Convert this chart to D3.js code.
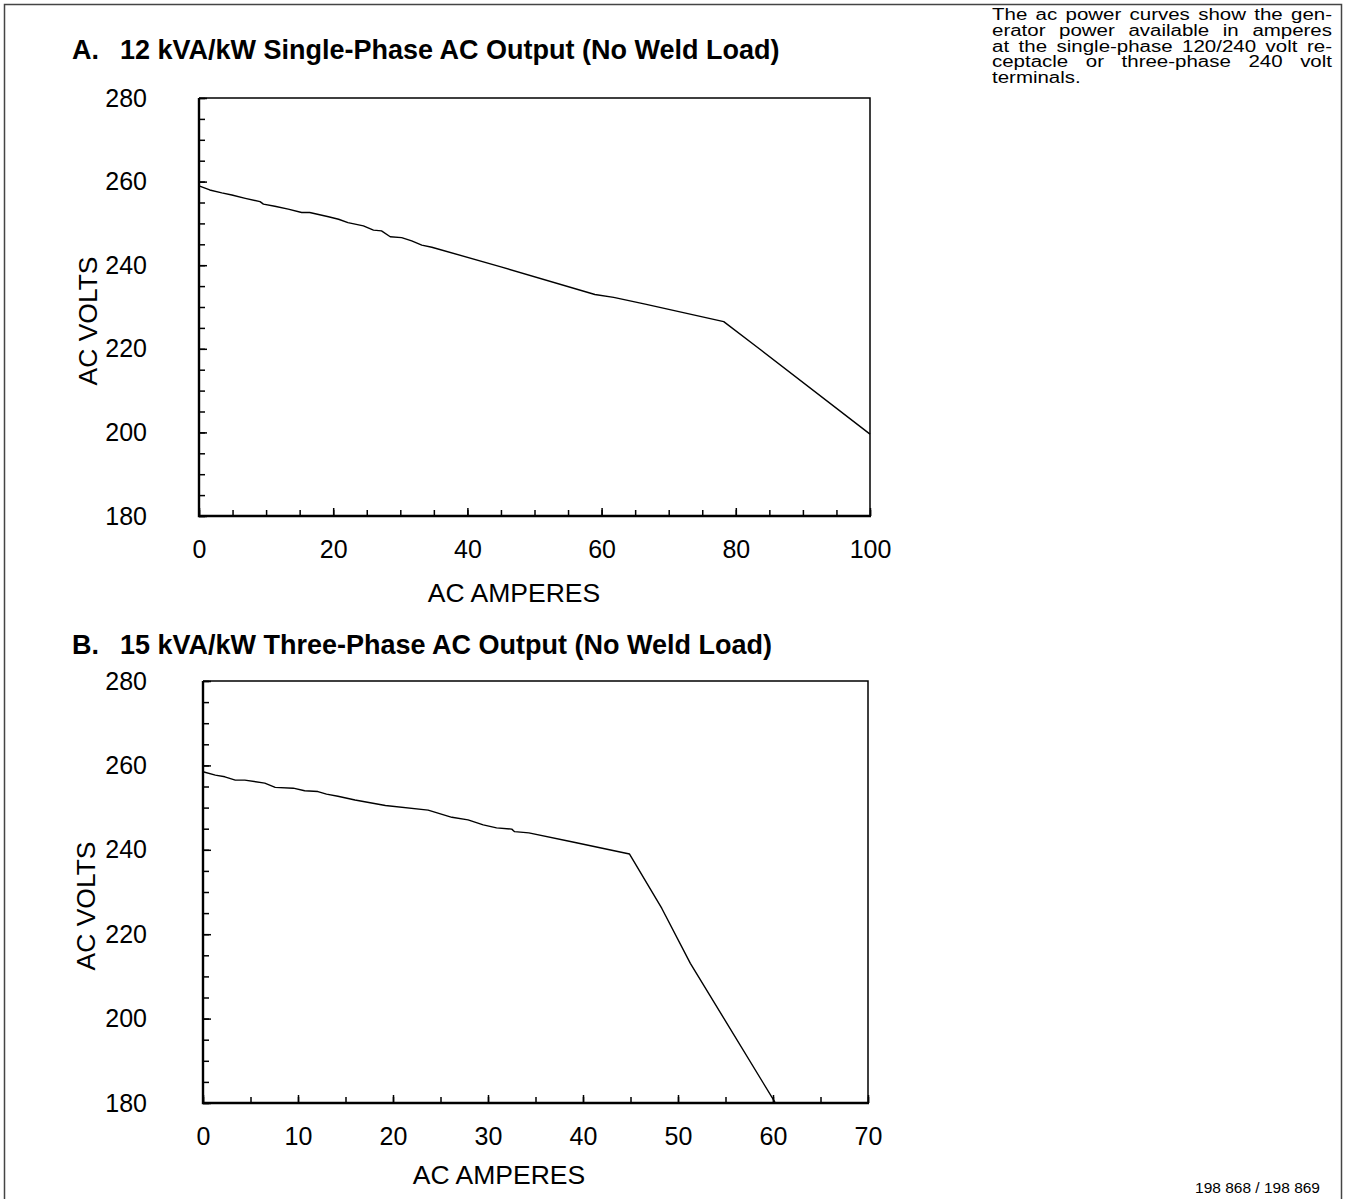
<!DOCTYPE html>
<html>
<head>
<meta charset="utf-8">
<script src="https://cdn.jsdelivr.net/npm/d3@7"></script>
<style>
  body { margin: 0; background: #fff; }
  svg { display: block; font-family: "Liberation Sans", Arial, Helvetica, sans-serif; }
</style>
</head>
<body>
<svg id="chart" width="1348" height="1199"></svg>
<script>
// tick values
var voltTicks = [180, 200, 220, 240, 260, 280];
var ampTicksA = [0, 20, 40, 60, 80, 100];
var ampTicksB = [0, 10, 20, 30, 40, 50, 60, 70];

// A: 12 kVA/kW single-phase
var ampsA = [0, 1.6, 3.4, 4.9, 6.9, 9.1, 9.6, 11.3, 13.3, 15.3, 16.5, 19.3, 20.8, 22.2, 24.5, 26.0, 27.2, 28.5, 30.2, 31.7, 33.2, 34.7, 45.0, 59.0, 61.8, 66.5, 78.2, 83.5, 100];
var voltsA = [259.0, 258.0, 257.3, 256.8, 256.0, 255.2, 254.6, 254.1, 253.4, 252.6, 252.6, 251.6, 251.0, 250.2, 249.4, 248.4, 248.2, 246.8, 246.6, 245.8, 244.8, 244.3, 239.6, 233.0, 232.3, 230.7, 226.5, 220.0, 199.6];

// B: 15 kVA/kW three-phase
var ampsB = [0, 1.3, 2.3, 3.4, 4.4, 6.5, 7.6, 9.5, 10.7, 12.1, 13.0, 14.2, 16.0, 19.2, 23.7, 26.2, 27.9, 29.5, 30.9, 32.5, 32.8, 34.3, 38.8, 44.9, 48.3, 51.3, 60.2];
var voltsB = [258.5, 257.7, 257.3, 256.5, 256.5, 255.8, 254.8, 254.6, 254.0, 253.8, 253.2, 252.7, 251.8, 250.5, 249.4, 247.7, 247.1, 245.9, 245.2, 244.9, 244.3, 244.0, 241.9, 239.0, 226.1, 213.1, 180.2];

var titleA = "12 kVA/kW Single-Phase AC Output (No Weld Load)";
var titleB = "15 kVA/kW Three-Phase AC Output (No Weld Load)";
var noteLines = [
    "The ac power curves show the gen-",
    "erator power available in amperes",
    "at the single-phase 120/240 volt re-",
    "ceptacle or three-phase 240 volt",
    "terminals."
];
var figNumber = "198 868 / 198 869";

var svg = d3.select("#chart");

// page border (bottom is cut off in the source)
svg.append("path")
    .attr("d", "M4.5,1199 V4.5 H1341.5 V1199")
    .attr("fill", "none")
    .attr("stroke", "#444")
    .attr("stroke-width", 1.5);

function draw_panel(p) {
    var x = d3.scaleLinear().domain([0, p.xMax]).range([p.left, p.right]);
    var y = d3.scaleLinear().domain([180, 280]).range([p.bottom, p.top]);

    // heading
    svg.append("text")
        .attr("x", 72).attr("y", p.titleY)
        .attr("font-size", 27).attr("font-weight", "bold")
        .text(p.letter);
    svg.append("text")
        .attr("x", 120).attr("y", p.titleY)
        .attr("font-size", 27).attr("font-weight", "bold")
        .text(p.title);

    // minor ticks every 5
    var minorY = d3.range(180, 281, 5);
    var minorX = d3.range(0, p.xMax + 1, 5);
    svg.append("g")
        .attr("transform", "translate(" + p.left + ",0)")
        .call(d3.axisLeft(y).tickValues(minorY).tickSize(-6).tickFormat(""))
        .call(function (g) { g.select(".domain").remove(); })
        .selectAll("line").attr("stroke-width", 1.5);
    svg.append("g")
        .attr("transform", "translate(0," + p.bottom + ")")
        .call(d3.axisBottom(x).tickValues(minorX).tickSize(-6).tickFormat(""))
        .call(function (g) { g.select(".domain").remove(); })
        .selectAll("line").attr("stroke-width", 1.5);

    // major ticks + labels
    var ay = svg.append("g")
        .attr("transform", "translate(" + p.left + ",0)")
        .call(d3.axisLeft(y).tickValues(voltTicks).tickSize(-8).tickPadding(p.yPad));
    ay.select(".domain").remove();
    ay.selectAll("line").attr("stroke-width", 1.5);
    ay.selectAll("text").attr("font-size", 25).attr("font-family", null).attr("fill", "#000");

    var ax = svg.append("g")
        .attr("transform", "translate(0," + p.bottom + ")")
        .call(d3.axisBottom(x).tickValues(p.xTicks).tickSize(-8).tickPadding(24));
    ax.select(".domain").remove();
    ax.selectAll("line").attr("stroke-width", 1.5);
    ax.selectAll("text").attr("font-size", 25).attr("font-family", null).attr("fill", "#000");

    // frame: heavier on the axis sides
    svg.append("path")
        .attr("d", "M" + p.left + "," + p.top + "H" + p.right + "V" + p.bottom)
        .attr("fill", "none").attr("stroke", "#000").attr("stroke-width", 1.5);
    svg.append("path")
        .attr("d", "M" + p.left + "," + p.top + "V" + p.bottom + "H" + (p.right + 1))
        .attr("fill", "none").attr("stroke", "#000").attr("stroke-width", 2.4);

    // curve
    var pts = p.amps.map(function (a, i) { return [a, p.volts[i]]; });
    svg.append("path")
        .datum(pts)
        .attr("fill", "none")
        .attr("stroke", "#000")
        .attr("stroke-width", 1.4)
        .attr("stroke-linejoin", "round")
        .attr("d", d3.line()
            .x(function (d) { return x(d[0]); })
            .y(function (d) { return y(d[1]); }));

    // axis titles
    svg.append("text")
        .attr("transform", "translate(" + p.yTitleX + "," + ((p.top + p.bottom) / 2 + 14) + ") rotate(-90)")
        .attr("text-anchor", "middle")
        .attr("font-size", 26.5)
        .text("AC VOLTS");
    svg.append("text")
        .attr("x", p.xTitleX)
        .attr("y", p.bottom + p.xTitleDy)
        .attr("text-anchor", "middle")
        .attr("font-size", 26.5)
        .text("AC AMPERES");
}

draw_panel({
    letter: "A.", title: titleA, titleY: 59,
    left: 199, right: 870, top: 98, bottom: 516,
    xMax: 100, xTicks: ampTicksA, amps: ampsA, volts: voltsA,
    yPad: 52, yTitleX: 97, xTitleX: 514, xTitleDy: 86
});
draw_panel({
    letter: "B.", title: titleB, titleY: 654,
    left: 203, right: 868, top: 681, bottom: 1103,
    xMax: 70, xTicks: ampTicksB, amps: ampsB, volts: voltsB,
    yPad: 56, yTitleX: 95, xTitleX: 499, xTitleDy: 81
});

// justified note at top right (the scan is stretched sideways)
var noteLeft = 992, noteRight = 1332, noteY = 20, noteLead = 15.8;
var noteSize = 16, noteStretch = 1.28;
noteLines.forEach(function (line, li) {
    var words = line.split(" ");
    var g = svg.append("g")
        .attr("transform", "translate(" + noteLeft + "," + (noteY + li * noteLead) + ") scale(" + noteStretch + ",1)");
    var texts = words.map(function (w) {
        return g.append("text").attr("font-size", noteSize).text(w);
    });
    var widths = texts.map(function (t) { return t.node().getComputedTextLength(); });
    var total = d3.sum(widths);
    var span = (noteRight - noteLeft) / noteStretch;
    var gap = (li === noteLines.length - 1 || words.length < 2)
        ? noteSize * 0.278 : (span - total) / (words.length - 1);
    var cx = 0;
    texts.forEach(function (t, i) {
        t.attr("x", cx);
        cx += widths[i] + gap;
    });
});

svg.append("text")
    .attr("x", 1320).attr("y", 1193)
    .attr("text-anchor", "end")
    .attr("font-size", 15.5)
    .text(figNumber);
</script>
</body>
</html>
